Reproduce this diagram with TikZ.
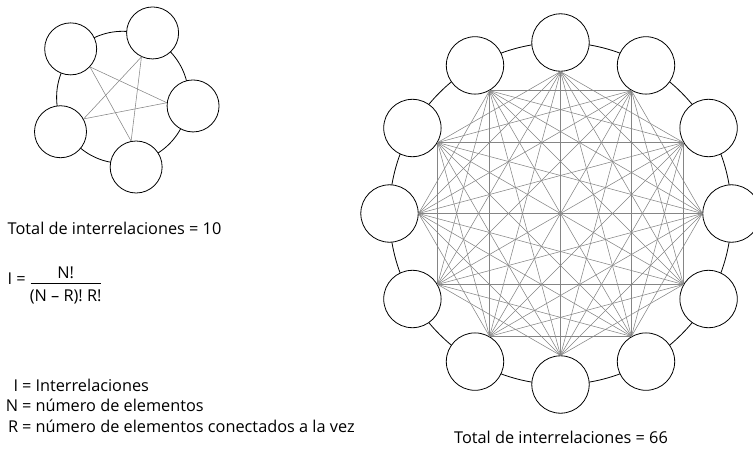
\documentclass[tikz,border=0pt]{standalone}
\usepackage{fontspec}
\setmainfont{Open Sans}
\usetikzlibrary{calc}
\begin{document}
\begin{tikzpicture}[x=1pt,y=-1pt,
  ball/.style={circle,draw=black,line width=0.8pt,fill=white,inner sep=0pt},
  smallball/.style={ball,minimum size=52pt},
  bigball/.style={ball,minimum size=57.4pt},
  ring/.style={draw=black,line width=0.8pt},
  link/.style={draw=black!48,line width=0.55pt},
  txt/.style={inner sep=0pt,font=\fontsize{16.3}{19}\selectfont}
]
\useasboundingbox (0,0) rectangle (753,448);
% ---------- small graph ----------
\coordinate (sc) at (122.6,97.3);
\draw[ring] (sc) circle[radius=66pt];
\foreach \k in {0,...,4}{
  \pgfmathsetmacro{\a}{65+72*\k}
  \node[smallball] (s\k) at ({122.6+71*cos(\a)},{97.3-71*sin(\a)}) {};
}
\foreach \i/\j in {0/2,0/3,1/3,1/4,2/4}{
  \pgfmathsetmacro{\ai}{65+72*\i+180}
  \pgfmathsetmacro{\aj}{65+72*\j+180}
  \draw[link] (s\i.\ai) -- (s\j.\aj);
}
% ---------- big graph ----------
\coordinate (bc) at (560.5,213.5);
\draw[ring] (bc) circle[radius=171pt];
\foreach \k in {0,...,11}{
  \pgfmathsetmacro{\a}{30*\k}
  \node[bigball] (b\k) at ({560.5+171*cos(\a)},{213.5-171*sin(\a)}) {};
}
\foreach \i in {0,...,11}{
  \foreach \d in {2,...,6}{
    \pgfmathtruncatemacro{\j}{mod(\i+\d,12)}
    \pgfmathtruncatemacro{\skip}{(\d==6)&&(\i>5)}
    \ifnum\skip=0
      \pgfmathsetmacro{\ai}{30*\i+180}
      \pgfmathsetmacro{\aj}{30*\j+180}
      \draw[link] (b\i.\ai) -- (b\j.\aj);
    \fi
  }
}
% ---------- texts ----------
\node[txt,anchor=base west] (t10) at (7.5,234) {Total de interrelaciones = 10};
\node[txt,anchor=base west] (feq) at (7.5,284.5) {I =};
\node[txt,anchor=base] (num) at (65.7,278.3) {N!};
\node[txt,anchor=base] (den) at (65.7,301) {(N – R)! R!};
\coordinate (barl) at (30.7,283);
\coordinate (barr) at (100.7,283);
\draw[line width=0.6pt] (barl) -- (barr);
\node[txt,anchor=base east] (lI) at (18.3,391) {I};
\node[txt,anchor=base west] (dI) at (21.8,391) {= Interrelaciones};
\node[txt,anchor=base east] (lN) at (18.3,411.5) {N};
\node[txt,anchor=base west] (dN) at (21.8,411.5) {= número de elementos};
\node[txt,anchor=base east] (lR) at (18.3,432) {R};
\node[txt,anchor=base west] (dR) at (21.8,432) {= número de elementos conectados a la vez};
\node[txt,anchor=base] (t66) at (561,443.3) {Total de interrelaciones = 66};
\end{tikzpicture}
\end{document}
